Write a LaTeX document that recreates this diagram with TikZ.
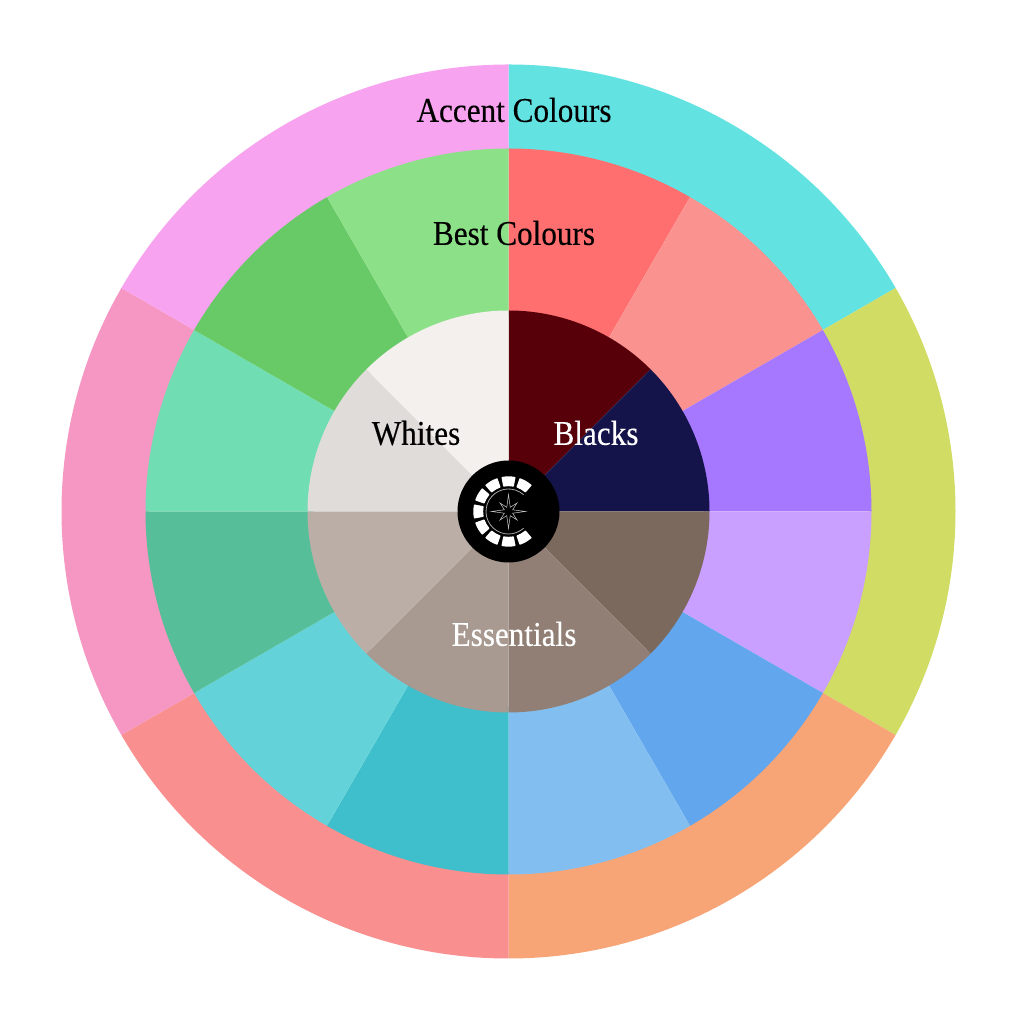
\documentclass[tikz,border=0pt]{standalone}
\usepackage{fontspec}
\setmainfont[FakeStretch=0.9,FakeBold=0.3]{Liberation Serif}
\begin{document}
\begin{tikzpicture}[x=0.75pt,y=0.75pt,
  lbl/.style={inner sep=0pt,font=\fontsize{26pt}{28pt}\selectfont}]
\useasboundingbox (0,0) rectangle (1024,1024);
\fill[white] (0,0) rectangle (1024,1024);
\coordinate (c) at (508.5,512.5);
% sector: colour, start, end, inner radius, outer radius
\newcommand{\sect}[5]{\fill[fill=#1] ([shift={(#2:#5)}]c) arc[start angle=#2,end angle=#3,radius=#5] -- ([shift={(#3:#4)}]c) arc[start angle=#3,end angle=#2,radius=#4] -- cycle;}
\definecolor{oa}{HTML}{62E3E2}\definecolor{ob}{HTML}{D1DC64}\definecolor{oc}{HTML}{F7A577}
\definecolor{od}{HTML}{F98F8F}\definecolor{oe}{HTML}{F597C2}\definecolor{of}{HTML}{F7A3F0}
\sect{oa}{30}{90}{360}{447}
\sect{ob}{-30}{30}{360}{447}
\sect{oc}{-90}{-30}{360}{447}
\sect{od}{-150}{-90}{360}{447}
\sect{oe}{150}{210}{360}{447}
\sect{of}{90}{150}{360}{447}
\definecolor{ma}{HTML}{FF6F6F}\definecolor{mb}{HTML}{FA9290}\definecolor{mc}{HTML}{A678FF}
\definecolor{md}{HTML}{C9A0FF}\definecolor{me}{HTML}{62A6EE}\definecolor{mf}{HTML}{82BFF0}
\definecolor{mg}{HTML}{3FBECB}\definecolor{mh}{HTML}{64D3D9}\definecolor{mi}{HTML}{56BF99}
\definecolor{mj}{HTML}{70DDB3}\definecolor{mk}{HTML}{68C967}\definecolor{ml}{HTML}{8CE088}
\sect{ma}{60}{90}{195}{363}
\sect{mb}{30}{60}{195}{363}
\sect{mc}{0}{30}{195}{363}
\sect{md}{-30}{0}{195}{363}
\sect{me}{-60}{-30}{195}{363}
\sect{mf}{-90}{-60}{195}{363}
\sect{mg}{-120}{-90}{195}{363}
\sect{mh}{-150}{-120}{195}{363}
\sect{mi}{-180}{-150}{195}{363}
\sect{mj}{150}{180}{195}{363}
\sect{mk}{120}{150}{195}{363}
\sect{ml}{90}{120}{195}{363}
\definecolor{ina}{HTML}{57000A}\definecolor{inb}{HTML}{14144A}\definecolor{inc}{HTML}{7C695D}
\definecolor{ind}{HTML}{917F75}\definecolor{ine}{HTML}{A89A90}\definecolor{inf}{HTML}{BBAEA6}
\definecolor{ing}{HTML}{E0DCD9}\definecolor{inh}{HTML}{F3F0ED}
\sect{ina}{45}{90}{40}{201}
\sect{inb}{0}{45}{40}{201}
\sect{inc}{-45}{0}{40}{201}
\sect{ind}{-90}{-45}{40}{201}
\sect{ine}{-135}{-90}{40}{201}
\sect{inf}{-180}{-135}{40}{201}
\sect{ing}{135}{180}{40}{201}
\sect{inh}{90}{135}{40}{201}
% hub
\fill[black] (c) circle[radius=51];
\foreach \a in {60,90,...,300}{
  \filldraw[white,line width=1pt,line join=round] ([shift={(\a-10.5:26)}]c) arc[start angle=\a-10.5,end angle=\a+10.5,radius=26] -- ([shift={(\a+10.5:34.5)}]c) arc[start angle=\a+10.5,end angle=\a-10.5,radius=34.5] -- cycle;
}
\draw[white!65!black,line width=0.6pt] ([shift={(48:22.5)}]c) arc[start angle=48,end angle=312,radius=22.5];
\draw[white!75!black,line width=0.4pt,line join=miter,fill=black]
  ([shift={(0:17)}]c) -- ([shift={(22.5:4.5)}]c) -- ([shift={(45:12)}]c) -- ([shift={(67.5:4.5)}]c)
  -- ([shift={(90:17)}]c) -- ([shift={(112.5:4.5)}]c) -- ([shift={(135:12)}]c) -- ([shift={(157.5:4.5)}]c)
  -- ([shift={(180:17)}]c) -- ([shift={(202.5:4.5)}]c) -- ([shift={(225:12)}]c) -- ([shift={(247.5:4.5)}]c)
  -- ([shift={(270:17)}]c) -- ([shift={(292.5:4.5)}]c) -- ([shift={(315:12)}]c) -- ([shift={(337.5:4.5)}]c) -- cycle;
% labels
\node[lbl,text=black] (accent) at (514,914) {Accent Colours};
\node[lbl,text=black] (best) at (514,791) {Best Colours};
\node[lbl,text=black] (whites) at (416,591) {Whites};
\node[lbl,text=white] (blacks) at (596,591) {Blacks};
\node[lbl,text=white] (essentials) at (514,390) {Essentials};
\end{tikzpicture}
\end{document}
